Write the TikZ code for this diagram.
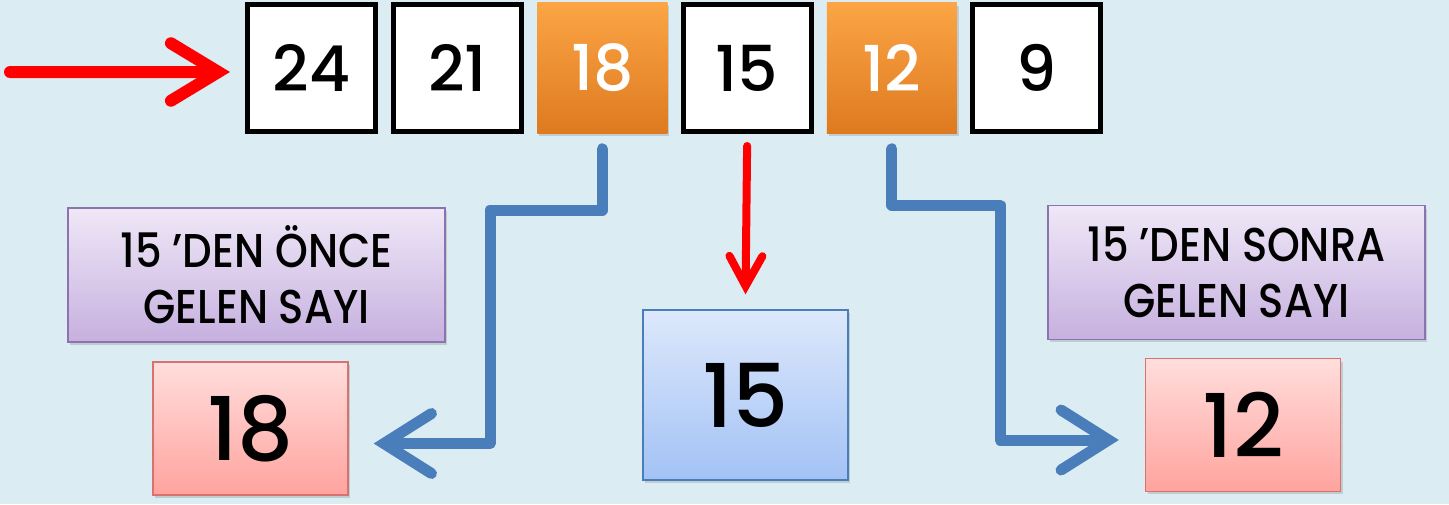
\documentclass[tikz,border=0pt]{standalone}
\usepackage{fontspec}
\setmainfont{Poppins}[BoldFont={Poppins Medium}]
\newfontfamily\labelfont[FakeStretch=0.88]{Poppins Medium}
\usetikzlibrary{positioning,arrows.meta,shadows}

\definecolor{bgblue}{HTML}{DBEDF3}
\definecolor{linkblue}{HTML}{4A7EBB}
\definecolor{orangetop}{HTML}{FBA545}
\definecolor{orangebot}{HTML}{DE7A20}
\definecolor{pinktop}{HTML}{FFDEDC}
\definecolor{pinkbot}{HTML}{FFA39E}
\definecolor{pinkline}{HTML}{D9716E}
\definecolor{midtop}{HTML}{DDE8FB}
\definecolor{midbot}{HTML}{A3C2F5}
\definecolor{purptop}{HTML}{EFE8F7}
\definecolor{purpbot}{HTML}{C6B0DF}
\definecolor{purpline}{HTML}{8D72B0}

\tikzset{
  numbox/.style={draw=black, line width=0.1cm, fill=white, minimum width=2.56cm, minimum height=2.54cm,
    font=\bfseries\fontsize{36}{40}\selectfont},
  oddbox/.style={top color=orangetop, bottom color=orangebot, text=white, minimum width=2.6cm, minimum height=2.62cm,
    font=\bfseries\fontsize{36}{40}\selectfont, drop shadow={opacity=0.3, shadow xshift=0.04cm, shadow yshift=-0.06cm}},
  infobox/.style={draw=purpline, thick, top color=purptop, bottom color=purpbot, minimum width=7.54cm, minimum height=2.68cm,
    align=center, font=\labelfont\fontsize{27}{32}\selectfont, drop shadow={opacity=0.3, shadow xshift=0.04cm, shadow yshift=-0.06cm}},
  resbox/.style={draw=pinkline, thick, top color=pinktop, bottom color=pinkbot, minimum width=3.9cm, minimum height=2.66cm,
    font=\bfseries\fontsize{50}{54}\selectfont, drop shadow={opacity=0.3, shadow xshift=0.04cm, shadow yshift=-0.06cm}},
  midbox/.style={draw=linkblue, thick, top color=midtop, bottom color=midbot, minimum width=4.1cm, minimum height=3.4cm,
    font=\bfseries\fontsize{50}{54}\selectfont, drop shadow={opacity=0.3, shadow xshift=0.04cm, shadow yshift=-0.06cm}},
  redarrow/.style={draw=red, line width=#1, line cap=round},
  bluelink/.style={draw=linkblue, line width=0.22cm, line join=round, line cap=round,
    -{Straight Barb[line cap=round, line join=miter, length=0.95cm, width=1.2cm]}}
}

\begin{document}
\begin{tikzpicture}[x=0.02cm, y=-0.02cm, node distance=0.26cm]
  \fill[bgblue] (0,0) rectangle (1449,504);
  \useasboundingbox (0,0) rectangle (1449,504);

  % the row of numbers
  \node (n24) [numbox] at (311.5,68) {24};
  \node (n21) [numbox, right=of n24] {21};
  \node (n18) [oddbox, right=of n21] {18};
  \node (n15) [numbox, right=of n18] {15};
  \node (n12) [oddbox, right=of n15] {12};
  \node (n9)  [numbox, right=of n12] {9};

  % answers below
  \node (before) [infobox] at (256.5,275) {15 ’DEN ÖNCE\\GELEN SAYI};
  \node (resL) [resbox] at (250.5,428.5) {18};
  \node (mid) [midbox] at (745.5,395) {15};
  \node (after) [infobox] at (1236.5,272.5) {15 ’DEN SONRA\\GELEN SAYI};
  \node (resR) [resbox] at (1243,425) {12};

  \coordinate (start) at (10,72);

  \draw[redarrow=0.24cm, -{Straight Barb[line cap=round, line join=miter, length=0.95cm, width=1.15cm]}]
    (start) -- ([xshift=-0.3cm, yshift=-0.08cm]n24.west);
  \draw[redarrow=0.16cm, -{Straight Barb[line cap=round, line join=miter, length=0.6cm, width=0.66cm]}]
    ([yshift=-0.24cm]n15.south) -- ([yshift=0.3cm]mid.north);
  \draw[bluelink] ([yshift=-0.3cm]n18.south) |- (490,210) |- ([xshift=0.5cm, yshift=-0.3cm]resL.east);
  \draw[bluelink] ([yshift=-0.3cm]n12.south) |- (1000,205) |- ([xshift=-0.52cm, yshift=-0.3cm]resR.west);
\end{tikzpicture}
\end{document}
